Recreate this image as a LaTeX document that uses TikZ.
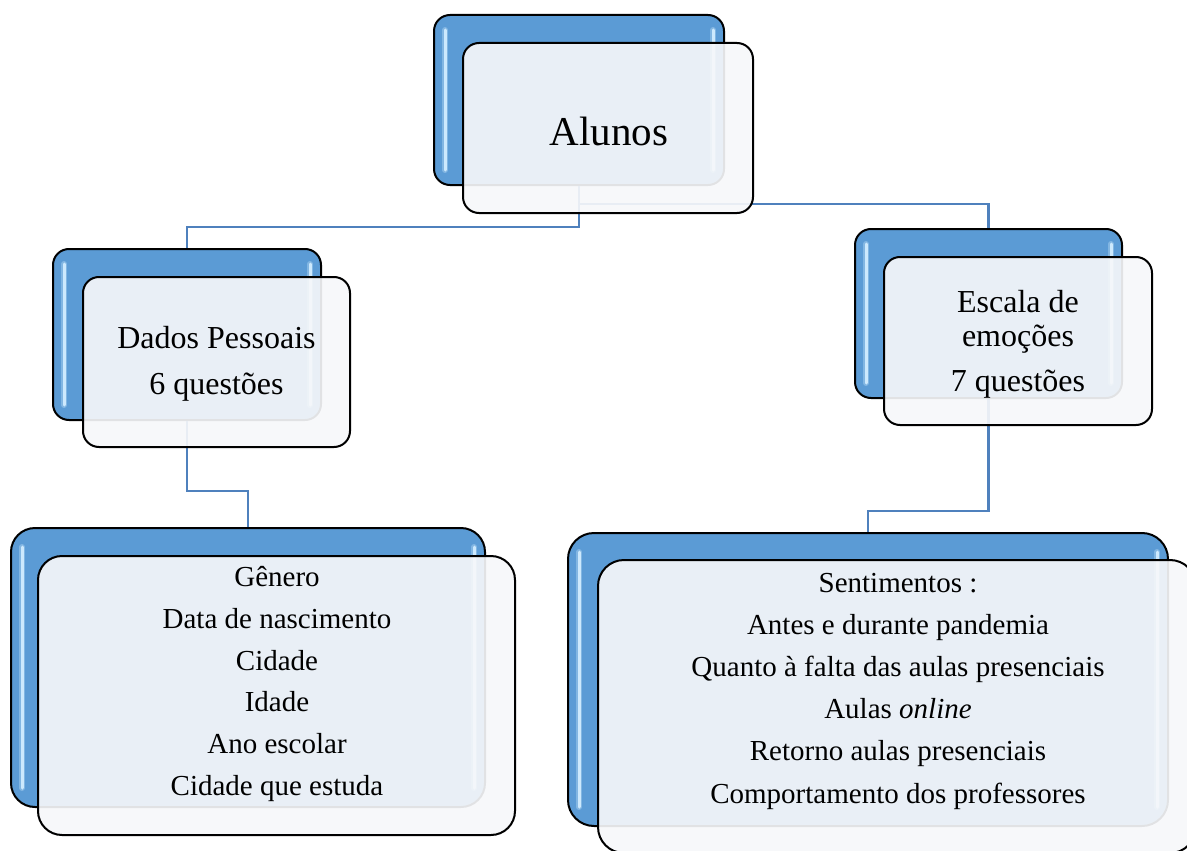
\documentclass[tikz,border=0pt]{standalone}
\usepackage{fontspec}
\setmainfont{Liberation Serif}
\usetikzlibrary{calc}
\definecolor{bback}{RGB}{91,155,213}
\definecolor{hlc}{RGB}{205,233,253}
\definecolor{connc}{RGB}{79,129,189}
\definecolor{frontc}{RGB}{247,248,250}
\tikzset{
  backbox/.style={draw=black, line width=2pt, fill=bback, rounded corners=#1, inner sep=0pt},
  frontbox/.style={draw=black, line width=2pt, fill=frontc, fill opacity=0.915, rounded corners=#1, inner sep=0pt},
  hilite/.style={draw=hlc, line width=3pt, line cap=round},
  glow/.style={draw=hlc, line width=6pt, line cap=round, opacity=0.35},
  connector/.style={draw=connc, line width=2.4pt},
  lbl/.style={align=center, inner sep=0pt, text=black}
}
\newcommand\hlpair[2]{%
  \draw[glow] ($(#1.north west)+(12,#2)$) -- ($(#1.south west)+(12,-#2)$);
  \draw[hilite] ($(#1.north west)+(12,#2)$) -- ($(#1.south west)+(12,-#2)$);
  \draw[glow] ($(#1.north east)+(-12,#2)$) -- ($(#1.south east)+(-12,-#2)$);
  \draw[hilite] ($(#1.north east)+(-12,#2)$) -- ($(#1.south east)+(-12,-#2)$);
}
\begin{document}
\begin{tikzpicture}[x=1pt,y=-1pt]
\useasboundingbox (0,0) rectangle (1187,851);
\clip (0,0) rectangle (1187,851);
\fill[white] (0,0) rectangle (1187,851);

% back boxes
\node[backbox=16pt, minimum width=290pt, minimum height=170pt] (alB) at (579,100) {};
\node[backbox=16pt, minimum width=268pt, minimum height=171pt] (daB) at (187,334.5) {};
\node[backbox=16pt, minimum width=267pt, minimum height=169pt] (esB) at (988.5,313.5) {};
\node[backbox=24pt, minimum width=474pt, minimum height=279pt] (l1B) at (248,667.5) {};
\node[backbox=26pt, minimum width=600pt, minimum height=293pt] (r1B) at (868,679.5) {};
\hlpair{alB}{16}
\hlpair{daB}{16}
\hlpair{esB}{16}
\hlpair{l1B}{20}
\hlpair{r1B}{20}

% connectors
\draw[connector] (alB.south) -- ++(0,18) -| (esB.north);
\draw[connector] (alB.south) -- ++(0,41) -| (daB.north);
\draw[connector] (daB.south) -- ++(0,70) -| (l1B.north);
\draw[connector] (esB.south) -- ++(0,112) -| (r1B.north);

% front boxes
\node[frontbox=16pt, minimum width=290pt, minimum height=170pt] (alF) at (608,128) {};
\node[frontbox=16pt, minimum width=267pt, minimum height=170pt] (daF) at (216.5,362) {};
\node[frontbox=16pt, minimum width=268pt, minimum height=168pt] (esF) at (1018,341) {};
\node[frontbox=24pt, minimum width=477pt, minimum height=279pt] (l1F) at (276.5,695.5) {};
\node[frontbox=26pt, minimum width=598pt, minimum height=293pt] (r1F) at (897,706.5) {};

% texts
\node[lbl, font=\fontsize{41}{48}\selectfont] (alT) at (609,131) {Alunos};
\node[lbl, font=\fontsize{32}{46}\selectfont] (daT) at (216.5,364) {Dados Pessoais\\6 questões};
\node[lbl, font=\fontsize{32}{34}\selectfont] (esT) at (1018,344) {Escala de\\emoções\\[11pt]7 questões};
\node[lbl, font=\fontsize{29}{41.8}\selectfont] (l1T) at (277,684) {Gênero\\Data de nascimento\\Cidade\\Idade\\Ano escolar\\Cidade que estuda};
\node[lbl, font=\fontsize{29}{42.2}\selectfont] (r1T) at (898,691) {Sentimentos :\\Antes e durante pandemia\\Quanto à falta das aulas presenciais\\Aulas \textit{online}\\Retorno aulas presenciais\\Comportamento dos professores};
\end{tikzpicture}
\end{document}
